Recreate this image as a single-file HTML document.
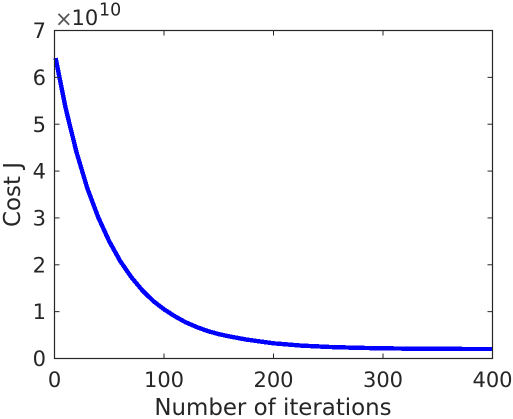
<!DOCTYPE html>
<html>
<head>
<meta charset="utf-8">
<style>
html,body{margin:0;padding:0;background:#fff;width:513px;height:419px;overflow:hidden}
svg{display:block}
text{font-family:"DejaVu Sans","Liberation Sans",sans-serif;fill:#262626}
</style>
</head>
<body>
<svg id="chart" width="513" height="419" viewBox="0 0 513 419" xmlns="http://www.w3.org/2000/svg">
  <rect x="54.5" y="30.5" width="438" height="328" fill="#fff"/>
  <g id="series"></g>
  <g id="ticks"></g>
  <rect x="54.5" y="30.5" width="438" height="328" fill="none" stroke="#262626" stroke-width="1.2"/>
  <g id="labels"></g>
  <text x="273" y="415" font-size="22.9" text-anchor="middle">Number of iterations</text>
  <text transform="translate(20,194.5) rotate(-90)" font-size="22.9" text-anchor="middle">Cost J</text>
  <g>
    <text x="55" y="26" font-size="21" style="fill:#555">×</text>
    <text x="71.5" y="25" font-size="21">10</text>
    <text x="99" y="15.5" font-size="17.4">10</text>
  </g>
</svg>
<script>
var iterations = [1, 10, 20, 30, 40, 50, 60, 70, 80, 90, 100, 110, 120, 130, 140, 150, 160, 175, 200, 225, 250, 275, 300, 325, 350, 400];
var costValues = [6.41, 5.36, 4.41, 3.63, 3.01, 2.50, 2.08, 1.74, 1.46, 1.23, 1.05, 0.90, 0.77, 0.67, 0.585, 0.52, 0.47, 0.405, 0.324, 0.276, 0.247, 0.229, 0.217, 0.21, 0.205, 0.202];
var xTickValues = [0, 100, 200, 300, 400];
var yTickValues = [0, 1, 2, 3, 4, 5, 6, 7];

var NS = 'http://www.w3.org/2000/svg';
var X0 = 54.5, X1 = 492.5, Y0 = 358.5, Y1 = 30.5, TICK = 5;
function sx(v) { return X0 + (v / 400) * (X1 - X0); }
function sy(v) { return Y0 - (v / 7) * (Y0 - Y1); }

var tickLayer = document.getElementById('ticks');
var labelLayer = document.getElementById('labels');
var seriesLayer = document.getElementById('series');

function addTick(x1, y1, x2, y2) {
  var t = document.createElementNS(NS, 'line');
  
  
  t.setAttribute('x1', x1);
  t.setAttribute('y1', y1);
  t.setAttribute('x2', x2);
  t.setAttribute('y2', y2);
  t.setAttribute('stroke', '#262626');
  t.setAttribute('stroke-width', '1');
  tickLayer.appendChild(t);
}

xTickValues.forEach(function (v) {
  var x = sx(v);
  addTick(x, Y0, x, Y0 - TICK);
  addTick(x, Y1, x, Y1 + TICK);
  var l = document.createElementNS(NS, 'text');
  
  
  l.setAttribute('x', x);
  l.setAttribute('y', 387);
  l.setAttribute('font-size', '21');
  l.setAttribute('text-anchor', 'middle');
  l.textContent = String(v);
  labelLayer.appendChild(l);
});

yTickValues.forEach(function (v) {
  var y = sy(v);
  addTick(X0, y, X0 + TICK, y);
  addTick(X1, y, X1 - TICK, y);
  var l = document.createElementNS(NS, 'text');
  
  
  l.setAttribute('x', 46);
  l.setAttribute('y', y + 7.6);
  l.setAttribute('font-size', '21');
  l.setAttribute('text-anchor', 'end');
  l.textContent = String(v);
  labelLayer.appendChild(l);
});

var d = '';
iterations.forEach(function (it, i) {
  d += (i ? ' L' : 'M') + sx(it).toFixed(2) + ' ' + sy(costValues[i]).toFixed(2);
});
var path = document.createElementNS(NS, 'path');


path.setAttribute('d', d);
path.setAttribute('fill', 'none');
path.setAttribute('stroke', '#0000ff');
path.setAttribute('stroke-width', '4.4');
path.setAttribute('stroke-linejoin', 'round');
path.setAttribute('shape-rendering', 'crispEdges');
seriesLayer.appendChild(path);
</script>
</body>
</html>
